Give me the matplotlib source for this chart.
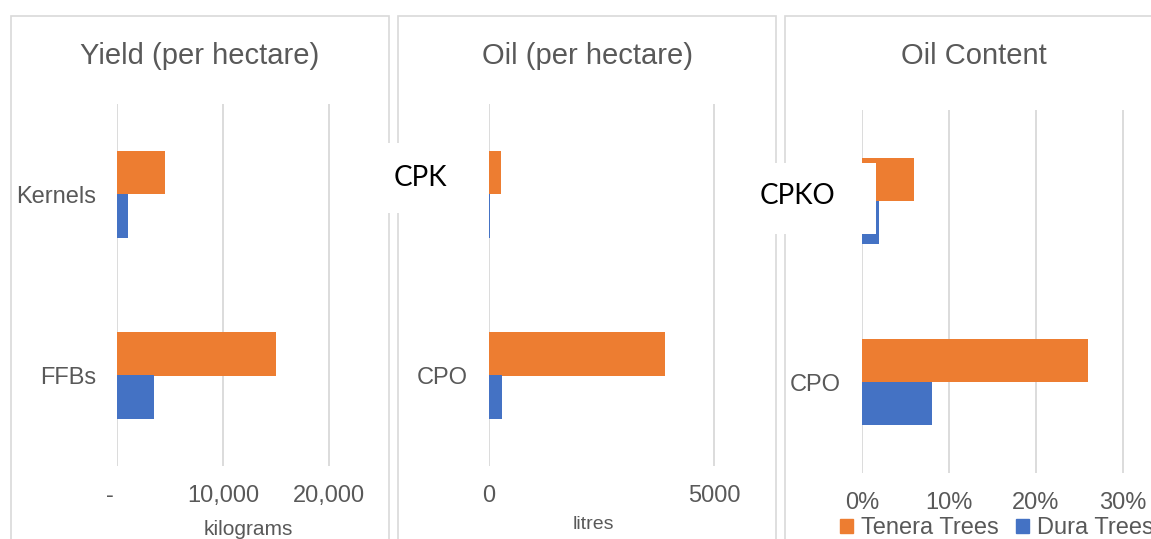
import numpy as np
import matplotlib
matplotlib.use('Agg')
from matplotlib import pyplot as plt
from matplotlib.patches import Rectangle, Patch

# data
yield_cats = ['FFBs', 'Kernels']
yield_tenera = [15000, 4500]
yield_dura = [3500, 1000]

oil_cats = ['CPO', 'CPK']
oil_tenera = [3900, 270]
oil_dura = [280, 20]

content_cats = ['CPO', 'CPKO']
content_tenera = [0.26, 0.06]
content_dura = [0.08, 0.02]

series_names = ['Tenera Trees', 'Dura Trees']

ORANGE = '#ED7D31'
BLUE = '#4472C4'
GREY = '#595959'
LIGHT = '#D9D9D9'

W, H = 1151, 539
plt.rcParams['font.family'] = ['Liberation Sans', 'DejaVu Sans']

fig = plt.figure(figsize=(W / 100, H / 100), dpi=100)


def px_rect(left, top, right, bottom):
    return [left / W, 1 - bottom / H, (right - left) / W, (bottom - top) / H]


def fx(px):
    return px / W


def fy(py):
    return 1 - py / H


# panel frames
for left, right in [(11, 389), (398, 776), (785, 1175)]:
    fig.add_artist(Rectangle((fx(left), fy(560)), fx(right) - fx(left), fy(16) - fy(560),
                             transform=fig.transFigure, facecolor='none',
                             edgecolor=LIGHT, lw=1.2, zorder=0))

bar_h = 0.2376


def panel(rect, cats, tenera, dura, xmax, ticks, ticklabels, boxed=None):
    ax = fig.add_axes(rect)
    y = np.arange(len(cats))
    ax.barh(y + bar_h / 2, tenera, height=bar_h, color=ORANGE, zorder=3)
    ax.barh(y - bar_h / 2, dura, height=bar_h, color=BLUE, zorder=3)
    ax.set_ylim(-0.5, len(cats) - 0.5)
    ax.set_xlim(0, xmax)
    ax.set_xticks(ticks)
    ax.set_xticklabels(ticklabels)
    ax.set_yticks(y)
    # the category shown in a white box gets no grey tick label
    ax.set_yticklabels(['' if c == boxed else c for c in cats])
    ax.grid(axis='x', color=LIGHT, lw=1.3, zorder=0)
    ax.set_axisbelow(True)
    for s in ax.spines.values():
        s.set_visible(False)
    ax.tick_params(axis='x', length=0, pad=14, labelsize=17, labelcolor=GREY)
    ax.tick_params(axis='y', length=0, pad=15, labelsize=17, labelcolor=GREY)
    ax.patch.set_alpha(0)
    return ax


ax1 = panel(px_rect(117, 104, 382, 466), yield_cats, yield_tenera, yield_dura,
            25000, [0, 10000, 20000], ['-  ', '10,000', '20,000'])
ax2 = panel(px_rect(489, 104, 759, 466), oil_cats, oil_tenera, oil_dura,
            6000, [0, 5000], ['0', '5000'], boxed='CPK')
ax3 = panel(px_rect(862, 110, 1149, 473), content_cats, content_tenera, content_dura,
            0.33, [0, 0.1, 0.2, 0.3], ['0%', '10%', '20%', '30%'], boxed='CPKO')

# titles
fig.text(fx(200), fy(64), 'Yield (per hectare)', ha='center', va='baseline',
         fontsize=21, color=GREY)
fig.text(fx(587), fy(64), 'Oil (per hectare)', ha='center', va='baseline',
         fontsize=21, color=GREY)
fig.text(fx(974), fy(64), 'Oil Content', ha='center', va='baseline',
         fontsize=21, color=GREY)

# axis titles
fig.text(fx(248), fy(535), 'kilograms', ha='center', va='baseline', fontsize=15, color=GREY)
fig.text(fx(593), fy(529), 'litres', ha='center', va='baseline', fontsize=14, color=GREY)

# white label boxes laid over the charts
for (l, t, r, b), label, tx, ty in [((385, 143, 487, 213), 'CPK', 394, 186),
                                    ((752, 163, 876, 234), 'CPKO', 760, 204)]:
    fig.add_artist(Rectangle((fx(l), fy(b)), fx(r) - fx(l), fy(t) - fy(b),
                             transform=fig.transFigure, facecolor='white',
                             edgecolor='none', zorder=5))
    fig.text(fx(tx), fy(ty), label, ha='left', va='baseline', fontsize=20,
             color='black', family=['Lato', 'DejaVu Sans'], zorder=6)

handles = [Patch(color=ORANGE), Patch(color=BLUE)]
fig.legend(handles, series_names, loc='center left', bbox_to_anchor=(fx(840), fy(528)),
           ncol=2, frameon=False, fontsize=17, labelcolor=GREY,
           handlelength=0.55, handleheight=0.55, handletextpad=0.35,
           columnspacing=0.72, borderpad=0, borderaxespad=0)

plt.savefig('out.png', dpi=100)
